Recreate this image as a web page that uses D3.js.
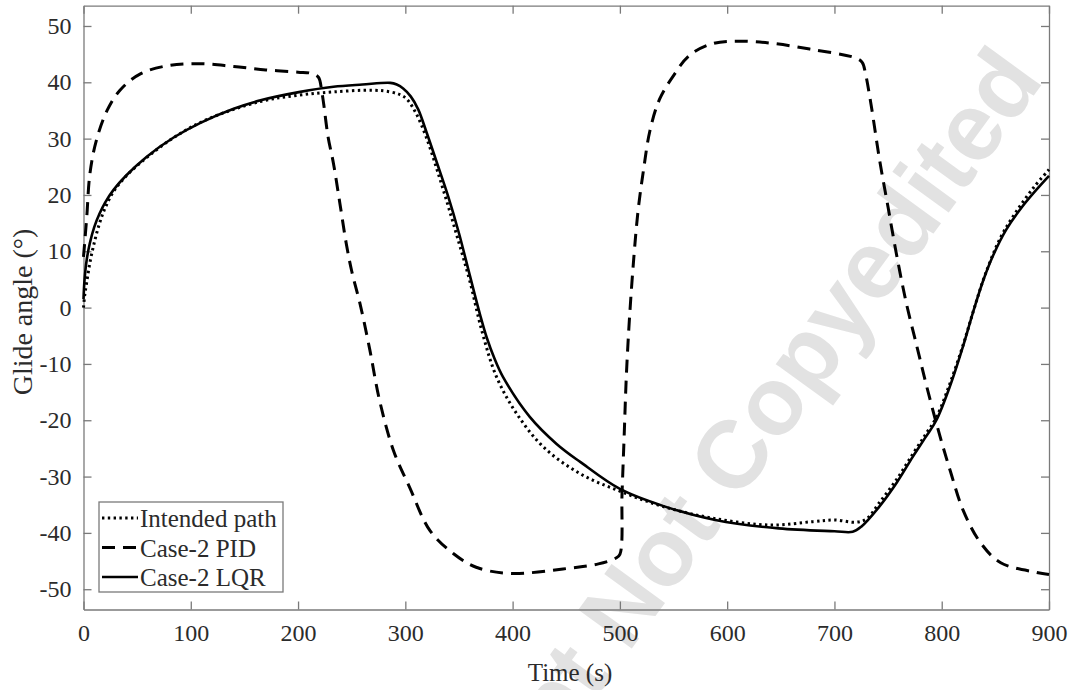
<!DOCTYPE html>
<html>
<head>
<meta charset="utf-8">
<script src="https://cdn.jsdelivr.net/npm/d3@7"></script>
<style>
  body { margin: 0; background: #fff; }
  text { font-family: "Liberation Serif", "Times New Roman", serif; }
</style>
</head>
<body>
<script>
// chart size
const w = 1073;
const h = 690;
const margin = {left: 83.5, right: 24, top: 5.7, bottom: 80.5};

// Intended path (dotted)
const intendedTime = [0, 1, 3, 6, 10, 15, 20, 28, 40, 60, 85, 115, 165, 200, 233, 270, 286, 295, 301, 310, 320, 330, 340, 350, 360, 372, 385, 404, 429, 463, 500, 540, 587, 640, 680, 700, 720, 730, 742, 758, 773, 785, 795, 808, 820, 830, 840, 855, 870, 886, 900];
const intendedAngle = [0, 2, 4.5, 8, 11.5, 15, 17.6, 20.6, 23.4, 26.8, 30.3, 33.4, 36.6, 37.7, 38.3, 38.6, 38.3, 37.8, 37.1, 34.5, 30, 24.2, 18, 11.5, 4.8, -4.6, -12.3, -18.9, -24.8, -29.5, -32.6, -35.3, -37.4, -38.6, -38.0, -37.7, -38.1, -37.5, -34.6, -30.5, -26, -22.5, -19.5, -13.3, -6.6, -0.3, 5.6, 12.5, 17.2, 21.4, 24.5];

// Case-2 PID (dashed)
const pidTime = [0, 3, 6, 12, 22, 34, 53, 80, 110, 140, 170, 200, 212, 219, 222, 224, 228, 233, 239, 245, 250, 258, 267, 276, 289, 304, 323, 345, 366, 398, 447, 480, 496, 500, 502, 504, 506, 509, 513, 517, 522, 528, 537, 550, 565, 587, 612, 643, 680, 720, 726, 729, 734, 742, 750, 758, 767, 777, 786, 797, 808, 820, 836, 855, 888, 900];
const pidAngle = [9, 16, 23.8, 29.7, 35, 38.6, 41.5, 43, 43.3, 42.8, 42.2, 41.8, 41.6, 40.9, 38.5, 36, 30.3, 25.6, 18.5, 11.3, 6.5, 0.5, -7.6, -16.5, -25.4, -31.9, -39.6, -43.7, -46.1, -47.2, -46.4, -45.5, -44.5, -43.8, -33, -22.7, -12.2, -1.7, 8.9, 17.3, 24.4, 31.4, 37, 41.2, 44.8, 46.9, 47.3, 46.9, 45.8, 44.3, 43.5, 41.5, 36.2, 26.3, 17.8, 9.3, 0.8, -7, -14, -21.9, -29, -36, -41.7, -45.3, -47, -47.4];

// Case-2 LQR (solid)
const lqrTime = [0, 1, 3, 6, 10, 15, 20, 28, 40, 59, 84, 109, 140, 165, 202, 233, 260, 286, 292, 298, 305, 312, 320, 330, 340, 350, 360, 370, 376, 383, 391, 416, 441, 463, 500, 540, 589, 648, 700, 717, 725, 742, 758, 773, 785, 795, 808, 820, 830, 839, 848, 860, 875, 890, 900];
const lqrAngle = [1.5, 5, 8.5, 11.5, 14.3, 16.7, 18.6, 20.9, 23.5, 26.8, 30.2, 32.8, 35.3, 36.8, 38.3, 39.2, 39.6, 39.9, 39.6, 38.9, 37.5, 35.2, 31, 25.4, 19.7, 13.2, 5.8, -1.5, -5.4, -9, -12.3, -19.4, -24.2, -27.4, -32.2, -35.2, -37.7, -39.2, -39.7, -39.8, -38.9, -35.3, -31.1, -26.5, -23, -20, -13.8, -6.8, -0.3, 5, 9.3, 13.8, 17.9, 21.3, 23.4];

// ticks and legend
const xTicks = [0, 100, 200, 300, 400, 500, 600, 700, 800, 900];
const yTicks = [-50, -40, -30, -20, -10, 0, 10, 20, 30, 40, 50];
const legendNames = ["Intended path", "Case-2 PID", "Case-2 LQR"];

const series = [
    {name: legendNames[0], t: intendedTime, v: intendedAngle, dash: "2.4,3.4", width: 3},
    {name: legendNames[1], t: pidTime, v: pidAngle, dash: "13,8", width: 3},
    {name: legendNames[2], t: lqrTime, v: lqrAngle, dash: null, width: 2.6}
];

let svg = d3.select("body")
            .append("svg")
                .attr("width", w)
                .attr("height", h);

const x = d3.scaleLinear()
        .domain([0, 900])
        .range([margin.left, w - margin.right]);

const y = d3.scaleLinear()
        .domain([-53.6, 53.6])
        .range([h - margin.bottom, margin.top]);

// watermark behind everything
svg.append("text")
    .attr("transform", "translate(1045,80) rotate(-54)")
    .attr("text-anchor", "end")
    .style("font-family", "'Liberation Sans', Arial, sans-serif")
    .style("font-weight", "bold")
    .style("font-size", "96px")
    .attr("fill", "#e2e2e2")
    .text("Accepted Manuscript Not Copyedited");

const axisColor = "#7a7a7a";
const labelColor = "#2b2b2b";
const fmt = (d) => String(d);

// axes, ticks point inward on all four sides
let gx = svg.append("g")
    .attr("transform", "translate(0," + y.range()[0] + ")")
    .call(d3.axisBottom(x).tickValues(xTicks).tickFormat(fmt).tickSize(-8).tickPadding(14).tickSizeOuter(0));

let gxTop = svg.append("g")
    .attr("transform", "translate(0," + y.range()[1] + ")")
    .call(d3.axisTop(x).tickValues(xTicks).tickSize(-8).tickFormat("").tickSizeOuter(0));

let gy = svg.append("g")
    .attr("transform", "translate(" + x.range()[0] + ",0)")
    .call(d3.axisLeft(y).tickValues(yTicks).tickFormat(fmt).tickSize(-8).tickPadding(12).tickSizeOuter(0));

let gyRight = svg.append("g")
    .attr("transform", "translate(" + x.range()[1] + ",0)")
    .call(d3.axisRight(y).tickValues(yTicks).tickSize(-8).tickFormat("").tickSizeOuter(0));

[gx, gxTop, gy, gyRight].forEach((g) => {
    g.selectAll("path, line").attr("stroke", axisColor).attr("stroke-width", 1.3);
    g.selectAll("text")
        .attr("fill", labelColor)
        .style("font-family", "'Liberation Serif', 'Times New Roman', serif")
        .style("font-size", "24px");
});

// draw curves
const line = d3.line()
    .x((d) => x(d[0]))
    .y((d) => y(d[1]))
    .curve(d3.curveCatmullRom.alpha(0.5));

series.forEach((s) => {
    svg.append("path")
        .datum(s.t.map((t, i) => [t, s.v[i]]))
        .attr("fill", "none")
        .attr("stroke", "#000")
        .attr("stroke-width", s.width)
        .attr("stroke-dasharray", s.dash)
        .attr("d", line);
});

// axis titles
svg.append("text")
    .attr("x", 570)
    .attr("y", 681)
    .attr("text-anchor", "middle")
    .attr("fill", labelColor)
    .style("font-size", "25px")
    .text("Time (s)");

svg.append("text")
    .attr("transform", "translate(32,312) rotate(-90)")
    .attr("text-anchor", "middle")
    .attr("fill", labelColor)
    .style("font-size", "28px")
    .text("Glide angle (°)");

// legend
let legend = svg.append("g");

legend.append("rect")
    .attr("x", 99)
    .attr("y", 502)
    .attr("width", 184)
    .attr("height", 90)
    .attr("fill", "#fff")
    .attr("stroke", axisColor)
    .attr("stroke-width", 1.3);

series.forEach((s, i) => {
    let ly = 527 + i * 29.5;
    legend.append("line")
        .attr("x1", 102)
        .attr("x2", 138)
        .attr("y1", ly - 9)
        .attr("y2", ly - 9)
        .attr("stroke", "#000")
        .attr("stroke-width", s.width)
        .attr("stroke-dasharray", s.dash);
    legend.append("text")
        .attr("x", 140)
        .attr("y", ly)
        .attr("fill", labelColor)
        .style("font-size", "25px")
        .text(s.name);
});
</script>
</body>
</html>
